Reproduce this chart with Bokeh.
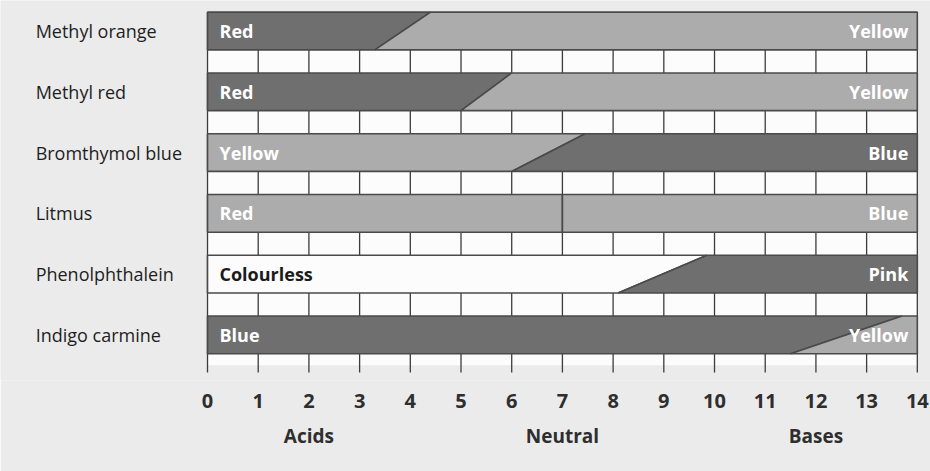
from bokeh.plotting import figure
from bokeh.models import Range1d, FixedTicker, LinearAxis
from bokeh.core.properties import value
from bokeh.embed import file_html
from bokeh.resources import INLINE

# ---- data ----
indicators = ["Methyl orange", "Methyl red", "Bromthymol blue", "Litmus",
              "Phenolphthalein", "Indigo carmine"]
acid_colour = ["Red", "Red", "Yellow", "Red", "Colourless", "Blue"]
base_colour = ["Yellow", "Yellow", "Blue", "Blue", "Pink", "Yellow"]
change_low = [3.3, 5.0, 6.0, 7.0, 8.1, 11.5]    # pH where change starts (lower edge)
change_high = [4.4, 6.0, 7.45, 7.0, 9.85, 13.7]  # pH where change ends (upper edge)
ph_ticks = list(range(0, 15))
regions = ["Acids", "Neutral", "Bases"]
region_ph = [2, 7, 12]

# ---- styles ----
DARK = "#6f6f6f"
LIGHT = "#acacac"
WHITE = "#fcfcfc"
BG = "#ebebeb"
EDGE = "#4a4a4a"
shade = {"Red": DARK, "Yellow": LIGHT, "Blue": DARK, "Pink": DARK, "Colourless": WHITE}
shade_override = {"Litmus": (LIGHT, LIGHT)}
FONT = "Open Sans"

PH_MIN, PH_MAX = ph_ticks[0], ph_ticks[-1]
H = 0.31  # half bar height in row units
rows = list(range(len(indicators)))

p = figure(width=930, height=471,
           x_range=Range1d(-4.083, 14.26), y_range=Range1d(5.75, -0.502),
           output_backend="svg", toolbar_location=None,
           min_border_left=0, min_border_right=0, min_border_top=0,
           min_border_bottom=91, y_axis_location=None)
p.grid.visible = False
p.outline_line_color = None
p.background_fill_color = BG
p.border_fill_color = BG

# white chart field and vertical pH grid lines
p.quad(left=[PH_MIN], right=[PH_MAX], top=[-H], bottom=[len(indicators) - 0.5],
       fill_color=WHITE, line_color=None)
p.segment(x0=ph_ticks, x1=ph_ticks, y0=[-H] * len(ph_ticks),
          y1=[len(indicators) - 0.38] * len(ph_ticks),
          line_color="#3c3c3c", line_width=1.3)

# bars: acid part and base part with slanted boundary
xs, ys, fills = [], [], []
for i, name in enumerate(indicators):
    ca, cb = shade_override.get(name, (shade[acid_colour[i]], shade[base_colour[i]]))
    top, bot = i - H, i + H
    xs.append([PH_MIN, change_high[i], change_low[i], PH_MIN])
    ys.append([top, top, bot, bot])
    fills.append(ca)
    xs.append([change_high[i], PH_MAX, PH_MAX, change_low[i]])
    ys.append([top, top, bot, bot])
    fills.append(cb)
p.patches(xs=xs, ys=ys, fill_color=fills, line_color=EDGE, line_width=1.6)

# colour labels inside bars
txt_col = lambda c: "#1b1b1b" if c == "Colourless" else "white"
p.text(x=[PH_MIN] * len(rows), y=rows, text=acid_colour, x_offset=12,
       text_color=[txt_col(c) for c in acid_colour],
       text_font=value(FONT), text_font_style="bold", text_font_size="18px",
       text_align="left", text_baseline="middle")
p.text(x=[PH_MAX] * len(rows), y=rows, text=base_colour, x_offset=-9,
       text_color=[txt_col(c) for c in base_colour],
       text_font=value(FONT), text_font_style="bold", text_font_size="18px",
       text_align="right", text_baseline="middle")

# indicator names on the left
p.text(x=[-3.39] * len(rows), y=rows, text=indicators,
       text_color="#1e1e1e", text_font=value(FONT), text_font_size="18px",
       text_align="left", text_baseline="middle")

# pH axis
ax = p.xaxis[0]
ax.ticker = FixedTicker(ticks=ph_ticks)
ax.axis_line_color = None
ax.major_tick_line_color = None
ax.minor_tick_line_color = None
ax.major_label_standoff = 7
ax.major_label_text_font = FONT
ax.major_label_text_font_size = "20px"
ax.major_label_text_font_style = "bold"
ax.major_label_text_color = "#2e2e2e"

# region axis
ax2 = LinearAxis(ticker=FixedTicker(ticks=region_ph),
                 major_label_overrides={k: v for k, v in zip(region_ph, regions)})
ax2.axis_line_color = None
ax2.major_tick_line_color = None
ax2.minor_tick_line_color = None
ax2.major_label_standoff = 6
ax2.major_label_text_font = FONT
ax2.major_label_text_font_size = "19px"
ax2.major_label_text_font_style = "bold"
ax2.major_label_text_color = "#2e2e2e"
p.add_layout(ax2, "below")

open("out.html", "w").write(file_html(p, INLINE))
